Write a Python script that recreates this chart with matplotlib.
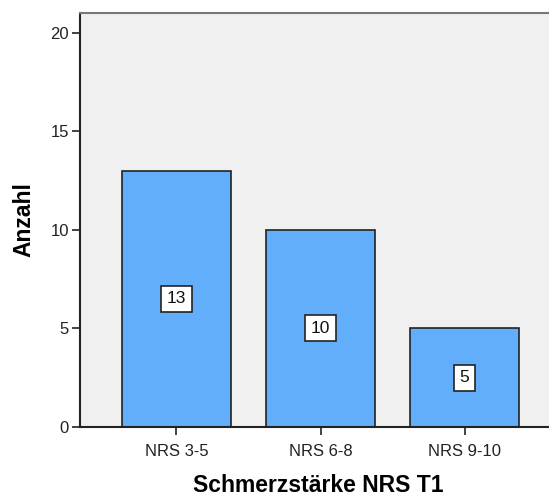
import matplotlib
matplotlib.use("Agg")
import matplotlib.pyplot as plt

categories = ["NRS 3-5", "NRS 6-8", "NRS 9-10"]
counts = [13, 10, 5]
yticks = [0, 5, 10, 15, 20]

plt.rcParams['font.family'] = ['Liberation Sans', 'DejaVu Sans']

W, H = 549, 497
fig = plt.figure(figsize=(W/100, H/100), dpi=100)
left, right, top, bottom = 80, 561, 13, 427
ax = fig.add_axes([left/W, 1-bottom/H, (right-left)/W, (bottom-top)/H])
ax.set_facecolor('#F0F0F0')

x = range(len(categories))
ax.bar(x, counts, width=0.757, color='#62AEFA', edgecolor='#222222', linewidth=1.2, zorder=2)
for xi, c in zip(x, counts):
    ax.text(xi, c/2, str(c), ha='center', va='center', fontsize=12.5, color='#111111', zorder=3,
            bbox=dict(boxstyle='square,pad=0.32', facecolor='white', edgecolor='#222222', linewidth=1.2))

ax.set_xlim(-0.67, 2.67)
ax.set_ylim(0, 21.0)
ax.set_yticks(yticks)
ax.set_xticks(list(x))
ax.set_xticklabels(categories)
ax.tick_params(axis='both', labelsize=12, colors='#222222', length=6, width=1.2)
ax.tick_params(axis='y', pad=2)
ax.tick_params(axis='x', pad=6)
for s in ['left', 'bottom']:
    ax.spines[s].set_color('#222222')
    ax.spines[s].set_linewidth(1.5)
for s in ['top', 'right']:
    ax.spines[s].set_color('#777777')
    ax.spines[s].set_linewidth(1.5)

ax.set_ylabel('Anzahl', fontsize=16.5, fontweight='bold')
ax.set_xlabel('Schmerzstärke NRS T1', fontsize=16.5, fontweight='bold')
ax.xaxis.set_label_coords((318-left)/(right-left), -(474-bottom)/(bottom-top))
ax.yaxis.set_label_coords(-(80-35)/(right-left), 0.5)

fig.savefig('out.png', dpi=100)
